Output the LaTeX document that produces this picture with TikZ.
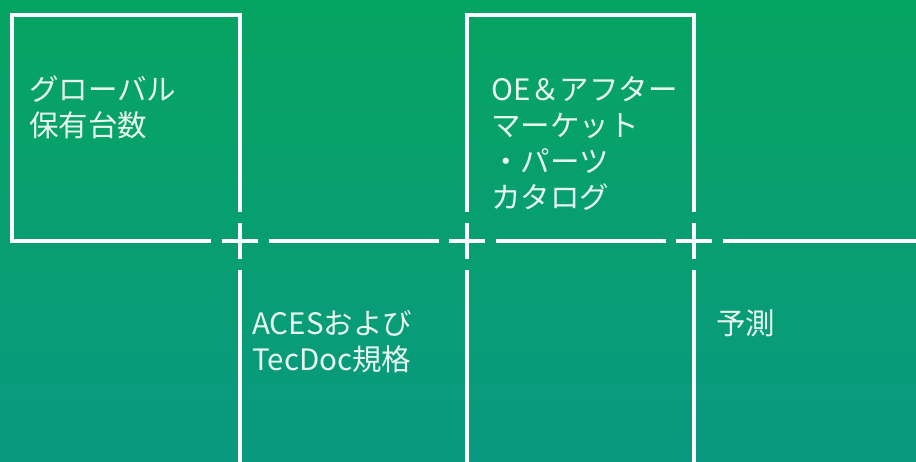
\documentclass[tikz,border=0pt]{standalone}
\usepackage{fontspec}
\setmainfont{Noto Sans CJK JP}
\definecolor{bgtop}{RGB}{6,164,98}
\definecolor{bgbot}{RGB}{9,153,128}
\definecolor{txt}{RGB}{232,246,240}
\tikzset{
  gridline/.style={draw=white, line width=4pt},
  label/.style={anchor=north west, inner sep=0pt, align=left, text=txt,
    font=\fontsize{29.5}{36}\selectfont},
}
\begin{document}
\begin{tikzpicture}[x=1pt,y=-1pt]
\useasboundingbox (0,0) rectangle (916,462);
\shade[top color=bgtop, bottom color=bgbot] (0,0) rectangle (916,462);
% plus centres
\coordinate (p1) at (240,241);
\coordinate (p2) at (467,241);
\coordinate (p3) at (694,241);
% plus signs
\foreach \p in {p1,p2,p3}{
  \draw[gridline] ([xshift=-18pt]\p) -- ([xshift=18pt]\p);
  \draw[gridline] ([yshift=18pt]\p) -- ([yshift=-18pt]\p);
}
% box 1
\draw[gridline] (211,241) -- (12,241) -- (12,15) -- (240,15) -- (240,212);
% horizontal segments
\draw[gridline] (269,241) -- (439,241);
\draw[gridline] (496,241) -- (666,241);
\draw[gridline] (723,241) -- (916,241);
% box 2
\draw[gridline] (467,212) -- (467,15) -- (694,15) -- (694,212);
% lower verticals
\draw[gridline] (240,270) -- (240,462);
\draw[gridline] (467,270) -- (467,462);
\draw[gridline] (694,270) -- (694,462);
% labels
\node[label] (t1) at (29,76) {グローバル\\保有台数};
\node[label] (t2) at (491,76) {OE＆アフター\\マーケット\\・パーツ\\カタログ};
\node[label] (t3) at (252,310) {ACESおよび\\TecDoc規格};
\node[label] (t4) at (716,310) {予測};
\end{tikzpicture}
\end{document}
